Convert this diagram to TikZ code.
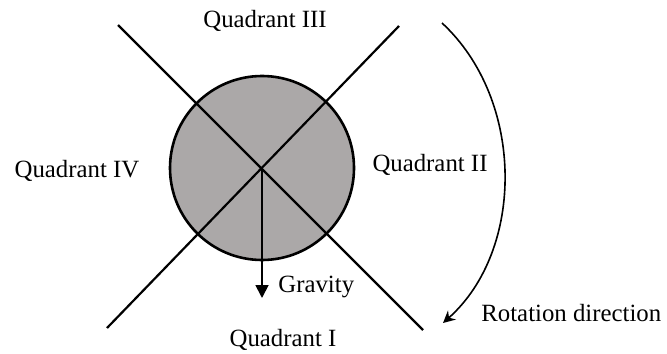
\documentclass[tikz,border=0pt]{standalone}
\usepackage{fontspec}
\setmainfont{Liberation Serif}
\usepackage{tikz}
\usetikzlibrary{positioning,arrows.meta}
\definecolor{diskgray}{RGB}{171,168,168}

\begin{document}
\begin{tikzpicture}[x=0.5pt, y=-0.5pt, font=\fontsize{12.4}{14}\selectfont,
    axis/.style={line width=1.1pt},
    label/.style={inner sep=0pt, text=black}]
  \useasboundingbox (0,0) rectangle (667,353);
  \coordinate (c) at (262,168);
  \node[circle, draw, line width=1.3pt, fill=diskgray, minimum size=92pt, inner sep=0pt] (disk) at (c) {};
  \coordinate (nw) at (118,25);  \coordinate (se) at (423,330);
  \coordinate (ne) at (399,26);  \coordinate (sw) at (107,328);
  \draw[axis] (nw) -- (se);
  \draw[axis] (ne) -- (sw);
  \coordinate (g) at (262,298);
  \draw[line width=0.9pt, -{Triangle[length=6.5pt, width=6.5pt]}] (c) -- (g);
  \node[label, anchor=west] (grav) at (278,287) {Gravity};
  \node[label] (q3) at (265,21) {Quadrant III};
  \node[label] (q1) at (283,340) {Quadrant I};
  \node[label] (q4) at (77,171) {Quadrant IV};
  \node[label] (q2) at (430,165) {Quadrant II};
  \coordinate (r1) at (442,23);
  \coordinate (r2) at (443,323);
  \draw[line width=0.8pt, -{Stealth[length=6pt, width=6pt, inset=2pt]}] (r1) .. controls (525,100) and (525,250) .. (r2);
  \node[label, anchor=west] (rot) at (481,313) {Rotation direction};
\end{tikzpicture}
\end{document}
